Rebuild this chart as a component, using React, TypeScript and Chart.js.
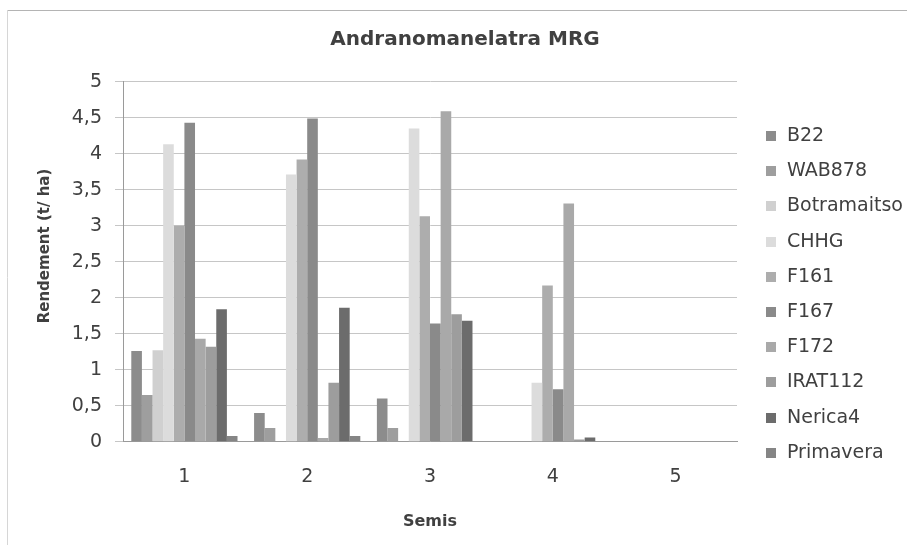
import React, { useEffect, useRef } from 'react';
import { Chart, registerables } from 'chart.js';

Chart.register(...registerables);

const TITLE = 'Andranomanelatra MRG';
const X_TITLE = 'Semis';
const Y_TITLE = 'Rendement (t/ ha)';

const CATEGORIES = ['1', '2', '3', '4', '5'];
const SERIES_NAMES = ['B22', 'WAB878', 'Botramaitso', 'CHHG', 'F161', 'F167', 'F172', 'IRAT112', 'Nerica4', 'Primavera'];

const B22 = [1.26, 0.4, 0.6, 0, 0];
const WAB878 = [0.65, 0.19, 0.19, 0, 0];
const BOTRAMAITSO = [1.27, 0, 0, 0, 0];
const CHHG = [4.13, 3.71, 4.35, 0.82, 0];
const F161 = [3.0, 3.92, 3.13, 2.17, 0];
const F167 = [4.43, 4.49, 1.64, 0.73, 0];
const F172 = [1.43, 0.05, 4.59, 3.31, 0];
const IRAT112 = [1.32, 0.82, 1.77, 0.03, 0];
const NERICA4 = [1.84, 1.86, 1.68, 0.06, 0];
const PRIMAVERA = [0.08, 0.08, 0, 0, 0];

const SERIES_COLORS = ['#8c8c8c', '#9e9e9e', '#d0d0d0', '#dcdcdc', '#adadad', '#8a8a8a', '#a9a9a9', '#9d9d9d', '#6c6c6c', '#858585'];

const Y_TICK_LABELS = ['0', '0,5', '1', '1,5', '2', '2,5', '3', '3,5', '4', '4,5', '5'];

const TEXT_COLOR = '#404040';

export default function App() {
  const ref = useRef<HTMLCanvasElement>(null);

  useEffect(() => {
    const canvas = ref.current;
    if (!canvas) return;
    const values = [B22, WAB878, BOTRAMAITSO, CHHG, F161, F167, F172, IRAT112, NERICA4, PRIMAVERA];
    const datasets = SERIES_NAMES.map((name, i) => ({
      label: name,
      data: values[i],
      backgroundColor: SERIES_COLORS[i],
      borderWidth: 0,
      categoryPercentage: 0.865,
      barPercentage: 1,
    }));

    const framePlugin = {
      id: 'frame',
      beforeDraw(chart: any) {
        const ctx = chart.ctx;
        ctx.save();
        ctx.fillStyle = '#ffffff';
        ctx.fillRect(0, 0, chart.width, chart.height);
        ctx.lineWidth = 1;
        ctx.strokeStyle = '#b4b4b4';
        ctx.beginPath();
        ctx.moveTo(7, 10.5);
        ctx.lineTo(chart.width, 10.5);
        ctx.stroke();
        ctx.strokeStyle = '#d6d6d6';
        ctx.beginPath();
        ctx.moveTo(7.5, 10);
        ctx.lineTo(7.5, chart.height);
        ctx.stroke();
        ctx.restore();
      },
    };

    const yTitlePlugin = {
      id: 'yTitle',
      afterDraw(chart: any) {
        const ctx = chart.ctx;
        ctx.save();
        ctx.translate(45, 246);
        ctx.rotate(-Math.PI / 2);
        ctx.font = 'bold 15px "DejaVu Sans"';
        ctx.fillStyle = TEXT_COLOR;
        ctx.textAlign = 'center';
        ctx.textBaseline = 'middle';
        ctx.fillText(Y_TITLE, 0, 0);
        ctx.restore();
      },
    };

    const legendPlugin = {
      id: 'sideLegend',
      afterDraw(chart: any) {
        const ctx = chart.ctx;
        ctx.save();
        ctx.font = '19px "DejaVu Sans"';
        ctx.textAlign = 'left';
        ctx.textBaseline = 'middle';
        chart.data.datasets.forEach((ds: any, i: number) => {
          const y = 136 + i * 35.2;
          ctx.fillStyle = ds.backgroundColor;
          ctx.fillRect(766, Math.round(y - 5), 10, 10);
          ctx.fillStyle = TEXT_COLOR;
          ctx.fillText(ds.label, 787, y);
        });
        ctx.restore();
      },
    };

    const chart = new Chart(canvas, {
      type: 'bar',
      data: { labels: CATEGORIES, datasets },
      options: {
        responsive: false,
        animation: false,
        layout: { padding: { left: 24, right: 1, top: 10, bottom: 9.3 } },
        plugins: {
          legend: { display: false },
          tooltip: { enabled: false },
          title: {
            display: true,
            text: TITLE,
            color: TEXT_COLOR,
            font: { family: 'DejaVu Sans', size: 20, weight: 'bold', lineHeight: 1.2 },
            padding: { top: 18, bottom: 29.7 },
          },
        },
        scales: {
          x: {
            grid: { display: false, drawTicks: false },
            border: { display: true, color: '#9a9a9a' },
            ticks: { color: TEXT_COLOR, font: { family: 'DejaVu Sans', size: 19 }, padding: 24 },
            title: {
              display: true,
              text: X_TITLE,
              color: TEXT_COLOR,
              font: { family: 'DejaVu Sans', size: 16, weight: 'bold', lineHeight: 1.2 },
              padding: { top: 0, bottom: 4 },
            },
          },
          y: {
            min: 0,
            max: 5,
            ticks: {
              stepSize: 0.5,
              color: TEXT_COLOR,
              font: { family: 'DejaVu Sans', size: 19 },
              padding: 13,
              callback: (_v: any, i: number) => Y_TICK_LABELS[i],
            },
            grid: { color: '#c6c6c6', tickLength: 8, drawTicks: true },
            border: { display: true, color: '#9a9a9a' },
            afterFit: (s: any) => {
              s.width = 99;
            },
          },
          y2: {
            type: 'linear',
            position: 'right',
            grid: { display: false, drawTicks: false },
            border: { display: false },
            ticks: { display: false },
            afterFit: (s: any) => {
              s.width = 169;
            },
          },
        },
      },
      plugins: [framePlugin, yTitlePlugin, legendPlugin],
    } as any);

    return () => chart.destroy();
  }, []);

  return (
    <div style={{ position: 'fixed', left: 0, top: 0, width: 907, height: 545, background: '#fff' }}>
      <canvas ref={ref} width={907} height={545} style={{ display: 'block' }} />
    </div>
  );
}
